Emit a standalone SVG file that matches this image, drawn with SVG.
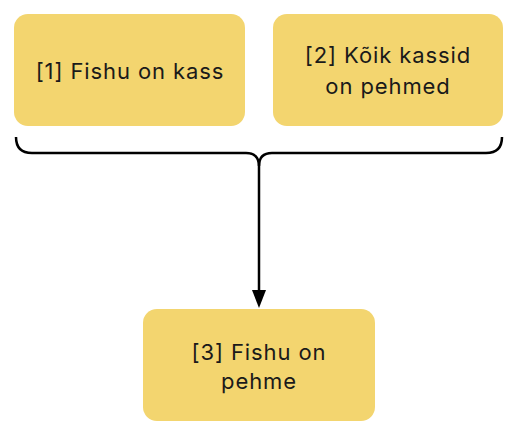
<svg xmlns="http://www.w3.org/2000/svg" width="520" height="434" viewBox="0 0 520 434">
<defs>
<style>
.box{fill:#F3D56F;}
.t{font-family:Inter,"Noto Sans",sans-serif;font-size:22px;letter-spacing:0.9px;fill:#1a1a1a;text-anchor:middle;}
.c{fill:none;stroke:#000;stroke-width:2.5;}
.ah{fill:#000;}
</style>
</defs>
<rect width="520" height="434" fill="#fff"/>
<g id="node1"><rect class="box" x="14" y="14" width="231" height="112" rx="14"/><text class="t" x="130" y="79">[1] Fishu on kass</text></g>
<g id="node2"><rect class="box" x="273" y="14" width="230" height="112" rx="14"/><text class="t" x="388" y="63">[2] Kõik kassid</text><text class="t" x="388" y="94">on pehmed</text></g>
<g id="node3"><rect class="box" x="143" y="309" width="232" height="112" rx="14"/><text class="t" x="259" y="360">[3] Fishu on</text><text class="t" x="259" y="389">pehme</text></g>
<g id="connectors">
<path class="c" d="M16,137 Q16,153 32,153 L246,153 Q259,153 259,166 Q259,153 272,153 L486,153 Q502,153 502,137"/>
<path class="c" d="M259,160 L259,292"/>
<path class="ah" d="M252,290 L266,290 L259,308 Z"/>
</g>
</svg>
